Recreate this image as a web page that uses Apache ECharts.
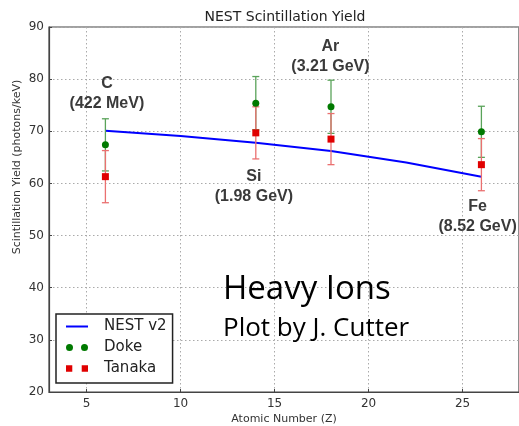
<!DOCTYPE html>
<html>
<head>
<meta charset="utf-8">
<script src="https://cdn.jsdelivr.net/npm/echarts@6/dist/echarts.min.js"></script>
<style>
  html, body { margin: 0; padding: 0; background: #fff; }
  #chart { width: 519px; height: 426px; }
</style>
</head>
<body>
<div id="chart"></div>
<script>
// Measured scintillation yields for heavy ions in liquid argon
const ionZ = [6, 14, 18, 26];
const dokeYield = [67.4, 75.4, 74.7, 69.9];
const dokeErr = [5.0, 5.1, 5.1, 4.9];
const tanakaYield = [61.3, 69.7, 68.5, 63.6];
const tanakaErr = [5.0, 5.0, 4.9, 5.0];

// NEST v2 model curve
const nestZ = [6, 10, 14, 18, 22, 26];
const nestYield = [70.1, 69.1, 67.8, 66.2, 64.0, 61.3];

// Ion annotations (species and beam energy), anchored in data space
const ionNames = ['C\n(422 MeV)', 'Si\n(1.98 GeV)', 'Ar\n(3.21 GeV)', 'Fe\n(8.52 GeV)'];
const ionNameZ = [6.08, 13.9, 17.97, 25.8];
const ionNameY = [77.3, 59.3, 84.4, 53.7];

const yTicks = [20, 30, 40, 50, 60, 70, 80, 90];

const GREEN = '#007a00';
const GREEN_BAR = '#5aa35a';
const RED = '#e00000';
const RED_BAR = '#ea7070';

const chart = echarts.init(document.getElementById('chart'), null, { renderer: 'canvas' });

function errorBars(values, errs) {
  return ionZ.map((z, i) => [z, values[i] - errs[i], values[i] + errs[i]]);
}

function makeErrorRenderer(color) {
  return function (params, api) {
    const x = api.value(0);
    const lo = api.coord([x, api.value(1)]);
    const hi = api.coord([x, api.value(2)]);
    const cap = 3.5;
    const style = { stroke: color, lineWidth: 1.3 };
    return {
      type: 'group',
      children: [
        { type: 'line', shape: { x1: hi[0], y1: hi[1], x2: lo[0], y2: lo[1] }, style },
        { type: 'line', shape: { x1: hi[0] - cap, y1: hi[1], x2: hi[0] + cap, y2: hi[1] }, style },
        { type: 'line', shape: { x1: lo[0] - cap, y1: lo[1], x2: lo[0] + cap, y2: lo[1] }, style }
      ]
    };
  };
}

// Legend glyphs: a plain line segment, and pairs of markers
const lineIcon = 'path://M0,0h22v2h-22z';
const dotsIcon = 'path://M0,3.5a3.5,3.5 0 1,0 7,0a3.5,3.5 0 1,0 -7,0M15,3.5a3.5,3.5 0 1,0 7,0a3.5,3.5 0 1,0 -7,0';
const squaresIcon = 'path://M0.5,0.5h6v6h-6zM15.5,0.5h6v6h-6z';

const axisTextColor = '#333';
const gridLine = { show: true, lineStyle: { color: '#aaa', type: [1.5, 2.5], width: 1 } };

chart.setOption({
  animation: false,
  backgroundColor: '#fff',
  grid: {
    left: 49, top: 27, right: -2, bottom: 34,
    show: true, borderColor: '#444', borderWidth: 1.2, backgroundColor: '#fff'
  },
  xAxis: {
    type: 'value', min: 3, max: 28,
    axisLine: { show: true, lineStyle: { color: '#444', width: 1.2 } },
    axisTick: { show: true, inside: true, length: 3, lineStyle: { color: '#444' } },
    axisLabel: {
      color: axisTextColor, fontSize: 12, fontFamily: 'DejaVu Sans', margin: 6,
      showMinLabel: false, showMaxLabel: false
    },
    splitLine: gridLine
  },
  yAxis: {
    type: 'value', min: yTicks[0], max: yTicks[yTicks.length - 1], interval: 10,
    axisLine: { show: true, lineStyle: { color: '#444', width: 1.2 } },
    axisTick: { show: true, inside: true, length: 3, lineStyle: { color: '#444' } },
    axisLabel: { color: axisTextColor, fontSize: 12, fontFamily: 'DejaVu Sans', margin: 5 },
    splitLine: gridLine
  },
  legend: {
    orient: 'vertical', left: 56, top: 314,
    padding: [5, 6, 7, 10],
    itemWidth: 22, itemHeight: 14, itemGap: 6,
    symbolKeepAspect: true,
    borderColor: '#222', borderWidth: 1.5, borderRadius: 0,
    backgroundColor: '#fff',
    textStyle: { color: '#222', fontSize: 15, fontFamily: 'DejaVu Sans', padding: [0, 0, 0, 11] },
    selectedMode: false,
    data: [
      { name: 'NEST v2', icon: lineIcon },
      { name: 'Doke', icon: dotsIcon },
      { name: 'Tanaka', icon: squaresIcon }
    ]
  },
  graphic: [
    {
      type: 'text', x: 285, y: 17,
      style: {
        text: 'NEST Scintillation Yield', fill: '#222', fontSize: 14,
        fontFamily: 'DejaVu Sans', textAlign: 'center', textVerticalAlign: 'middle'
      }
    },
    {
      type: 'text', x: 284, y: 419,
      style: {
        text: 'Atomic Number (Z)', fill: '#333', fontSize: 11,
        fontFamily: 'DejaVu Sans', textAlign: 'center', textVerticalAlign: 'middle'
      }
    },
    {
      type: 'text', x: 17, y: 167, rotation: Math.PI / 2,
      style: {
        text: 'Scintillation Yield (photons/keV)', fill: '#333', fontSize: 11,
        fontFamily: 'DejaVu Sans', textAlign: 'center', textVerticalAlign: 'middle'
      }
    },
    {
      type: 'text', x: 223, y: 290, z: 20,
      style: {
        text: 'Heavy Ions', fill: '#000', fontSize: 33,
        fontFamily: 'Open Sans', textAlign: 'left', textVerticalAlign: 'middle'
      }
    },
    {
      type: 'text', x: 223, y: 329, z: 20,
      style: {
        text: 'Plot by J. Cutter', fill: '#000', fontSize: 26,
        fontFamily: 'Open Sans', textAlign: 'left', textVerticalAlign: 'middle'
      }
    }
  ],
  series: [
    {
      name: 'NEST v2', type: 'line', symbol: 'none',
      data: nestZ.map((z, i) => [z, nestYield[i]]),
      lineStyle: { color: '#0000ff', width: 2 },
      itemStyle: { color: '#0000ff' },
      z: 2
    },
    {
      name: 'Doke error', type: 'custom',
      renderItem: makeErrorRenderer(GREEN_BAR),
      data: errorBars(dokeYield, dokeErr), z: 3, silent: true
    },
    {
      name: 'Tanaka error', type: 'custom',
      renderItem: makeErrorRenderer(RED_BAR),
      data: errorBars(tanakaYield, tanakaErr), z: 3, silent: true
    },
    {
      name: 'Doke', type: 'scatter', symbol: 'circle', symbolSize: 7,
      data: ionZ.map((z, i) => [z, dokeYield[i]]),
      itemStyle: { color: GREEN, opacity: 1 }, z: 4
    },
    {
      name: 'Tanaka', type: 'scatter', symbol: 'rect', symbolSize: 7,
      data: ionZ.map((z, i) => [z, tanakaYield[i]]),
      itemStyle: { color: RED, opacity: 1 }, z: 4
    },
    {
      name: 'ions', type: 'scatter', symbolSize: 0, silent: true, z: 5,
      itemStyle: { color: '#333', opacity: 1 },
      data: ionNameZ.map((z, i) => [z, ionNameY[i], ionNames[i]]),
      label: {
        show: true, position: 'inside',
        formatter: p => p.data[2],
        color: '#3a3a3a', fontSize: 16, fontWeight: 'bold',
        textBorderWidth: 0, opacity: 1,
        fontFamily: 'Liberation Sans', lineHeight: 20, align: 'center'
      }
    }
  ]
});
</script>
</body>
</html>
